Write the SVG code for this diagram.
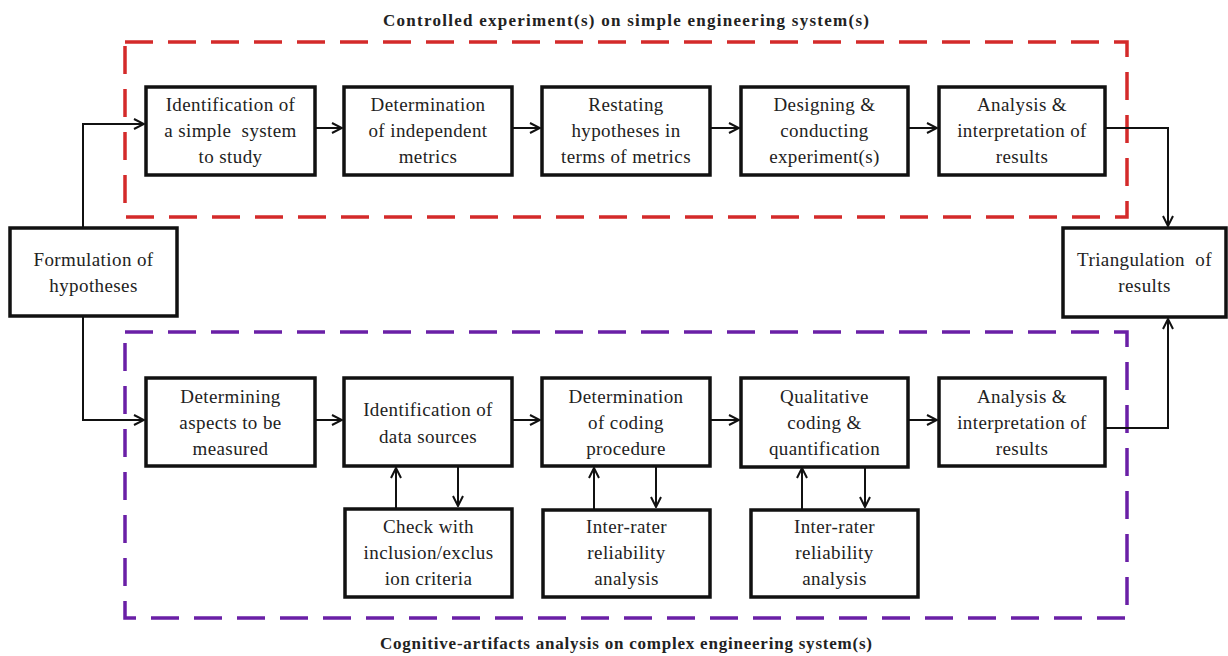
<svg xmlns="http://www.w3.org/2000/svg" width="1228" height="656" viewBox="0 0 1228 656">
<style>
.bx{fill:#fff;stroke:#111;stroke-width:3.5}
.t{font-family:"Liberation Serif","Times New Roman",serif;font-size:19px;letter-spacing:0.4px;fill:#222;text-anchor:middle}
.ttl{font-family:"Liberation Serif","Times New Roman",serif;font-size:17px;font-weight:bold;fill:#222;text-anchor:middle}
.c{fill:none;stroke:#111;stroke-width:2}
.red{fill:none;stroke:#d42a2a;stroke-width:3.5;stroke-dasharray:28 15}
.pur{fill:none;stroke:#6a1fa6;stroke-width:3.5;stroke-dasharray:28 15}
</style>
<defs>
<marker id="ah" viewBox="0 0 12 12" refX="11" refY="6" markerWidth="12" markerHeight="12" markerUnits="userSpaceOnUse" orient="auto">
<path d="M1,1 L11,6 L1,11" fill="none" stroke="#111" stroke-width="2"/>
</marker>
</defs>
<rect fill="#fff" width="1228" height="656"/>
<text class="ttl" x="626" y="26" textLength="486" lengthAdjust="spacing">Controlled experiment(s) on simple engineering system(s)</text>
<text class="ttl" x="626" y="649" textLength="492" lengthAdjust="spacing">Cognitive-artifacts analysis on complex engineering system(s)</text>
<rect class="red" x="125" y="42" width="1002" height="175"/>
<rect class="pur" x="125" y="332" width="1002" height="286"/>
<g id="connectors">
<path class="c" d="M83,228 V124 H144" marker-end="url(#ah)"/>
<path class="c" d="M83,316 V420 H144" marker-end="url(#ah)"/>
<path class="c" d="M315,128 H342" marker-end="url(#ah)"/>
<path class="c" d="M512,128 H540" marker-end="url(#ah)"/>
<path class="c" d="M710,128 H739" marker-end="url(#ah)"/>
<path class="c" d="M908,128 H937" marker-end="url(#ah)"/>
<path class="c" d="M1105,128 H1168 V226" marker-end="url(#ah)"/>
<path class="c" d="M315,420 H342" marker-end="url(#ah)"/>
<path class="c" d="M512,420 H540" marker-end="url(#ah)"/>
<path class="c" d="M710,420 H739" marker-end="url(#ah)"/>
<path class="c" d="M908,420 H937" marker-end="url(#ah)"/>
<path class="c" d="M1105,428 H1168 V319" marker-end="url(#ah)"/>
<path class="c" d="M396,508 V468" marker-end="url(#ah)"/>
<path class="c" d="M458,466 V506" marker-end="url(#ah)"/>
<path class="c" d="M594,509 V468" marker-end="url(#ah)"/>
<path class="c" d="M656,466 V507" marker-end="url(#ah)"/>
<path class="c" d="M802,509 V468" marker-end="url(#ah)"/>
<path class="c" d="M865,466 V507" marker-end="url(#ah)"/>
</g>
<g id="formulation"><rect class="bx" x="10" y="228" width="167" height="88"/>
<text class="t" x="93.5" y="266">Formulation of</text><text class="t" x="93.5" y="292">hypotheses</text></g>
<g id="triangulation"><rect class="bx" x="1063" y="228" width="163" height="89"/>
<text class="t" x="1144.5" y="266" xml:space="preserve">Triangulation  of</text><text class="t" x="1144.5" y="292">results</text></g>
<g id="top1"><rect class="bx" x="146" y="87" width="169" height="88"/>
<text class="t" x="230.5" y="111">Identification of</text><text class="t" x="230.5" y="137" xml:space="preserve">a simple  system</text><text class="t" x="230.5" y="163">to study</text></g>
<g id="top2"><rect class="bx" x="344" y="87" width="168" height="88"/>
<text class="t" x="428" y="111">Determination</text><text class="t" x="428" y="137">of independent</text><text class="t" x="428" y="163">metrics</text></g>
<g id="top3"><rect class="bx" x="542" y="87" width="168" height="88"/>
<text class="t" x="626" y="111">Restating</text><text class="t" x="626" y="137">hypotheses in</text><text class="t" x="626" y="163">terms of metrics</text></g>
<g id="top4"><rect class="bx" x="741" y="87" width="167" height="88"/>
<text class="t" x="824.5" y="111">Designing &amp;</text><text class="t" x="824.5" y="137">conducting</text><text class="t" x="824.5" y="163">experiment(s)</text></g>
<g id="top5"><rect class="bx" x="939" y="87" width="166" height="88"/>
<text class="t" x="1022" y="111">Analysis &amp;</text><text class="t" x="1022" y="137">interpretation of</text><text class="t" x="1022" y="163">results</text></g>
<g id="bot1"><rect class="bx" x="146" y="378" width="169" height="88"/>
<text class="t" x="230.5" y="403">Determining</text><text class="t" x="230.5" y="429">aspects to be</text><text class="t" x="230.5" y="455">measured</text></g>
<g id="bot2"><rect class="bx" x="344" y="378" width="168" height="88"/>
<text class="t" x="428" y="416">Identification of</text><text class="t" x="428" y="443">data sources</text></g>
<g id="bot3"><rect class="bx" x="542" y="378" width="168" height="88"/>
<text class="t" x="626" y="403">Determination</text><text class="t" x="626" y="429">of coding</text><text class="t" x="626" y="455">procedure</text></g>
<g id="bot4"><rect class="bx" x="741" y="378" width="167" height="89"/>
<text class="t" x="824.5" y="403">Qualitative</text><text class="t" x="824.5" y="429">coding &amp;</text><text class="t" x="824.5" y="455">quantification</text></g>
<g id="bot5"><rect class="bx" x="939" y="378" width="166" height="88"/>
<text class="t" x="1022" y="403">Analysis &amp;</text><text class="t" x="1022" y="429">interpretation of</text><text class="t" x="1022" y="455">results</text></g>
<g id="sub1"><rect class="bx" x="345" y="509" width="167" height="88"/>
<text class="t" x="428.5" y="533">Check with</text><text class="t" x="428.5" y="559">inclusion/exclus</text><text class="t" x="428.5" y="585">ion criteria</text></g>
<g id="sub2"><rect class="bx" x="543" y="510" width="167" height="87"/>
<text class="t" x="626.5" y="533">Inter-rater</text><text class="t" x="626.5" y="559">reliability</text><text class="t" x="626.5" y="585">analysis</text></g>
<g id="sub3"><rect class="bx" x="751" y="510" width="167" height="87"/>
<text class="t" x="834.5" y="533">Inter-rater</text><text class="t" x="834.5" y="559">reliability</text><text class="t" x="834.5" y="585">analysis</text></g>
</svg>
